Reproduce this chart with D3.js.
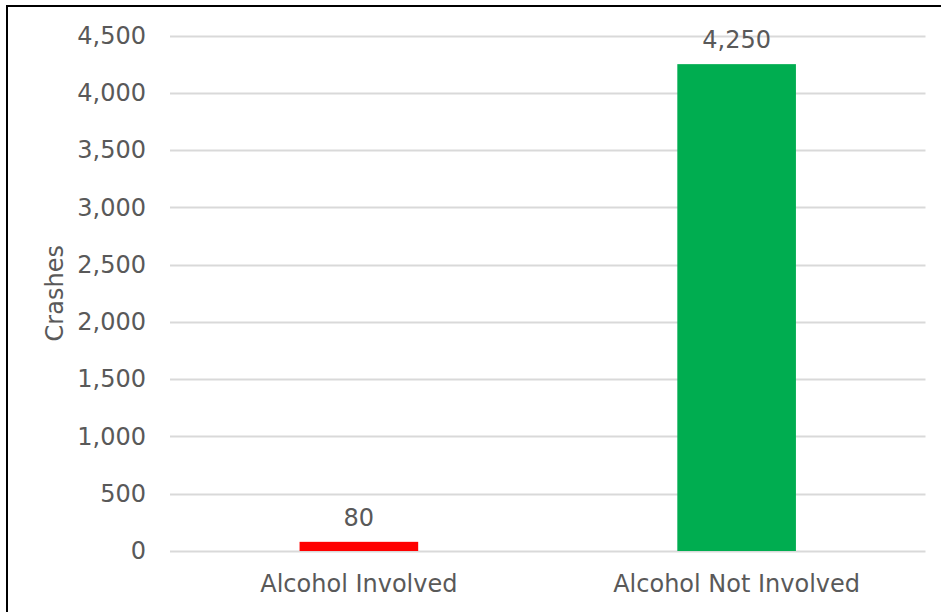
<!DOCTYPE html>
<html>
<head>
<meta charset="utf-8">
<script src="https://cdn.jsdelivr.net/npm/d3@7"></script>
<style>
  html, body { margin: 0; padding: 0; background: #fff; }
  svg { display: block; }
  text { font-family: Verdana, "DejaVu Sans", sans-serif; fill: #595959; }
</style>
</head>
<body>
<svg id="chart" width="941" height="612"></svg>
<script>
const categories = ["Alcohol Involved", "Alcohol Not Involved"];
const values = [80, 4250];
const barColors = ["#FF0000", "#00AD50"];
const yTicks = [0, 500, 1000, 1500, 2000, 2500, 3000, 3500, 4000, 4500];
const yTitle = "Crashes";

const svg = d3.select("#chart");
const plot = { left: 170, right: 925.5, top: 35.5, bottom: 551 };

// frame (only top and left visible in reference; chart is cropped)
svg.append("rect")
  .attr("x", 7).attr("y", 6)
  .attr("width", 1000).attr("height", 1000)
  .attr("fill", "none").attr("stroke", "#000").attr("stroke-width", 2);

const x = d3.scaleBand().domain(categories).range([plot.left, plot.right]).padding(0);
const y = d3.scaleLinear().domain([0, 4500]).range([plot.bottom, plot.top]);

const fmt = d3.format(",");
const fontSize = 24;
const FF = 'Verdana, "DejaVu Sans", sans-serif';

// gridlines
svg.append("g").selectAll("line").data(yTicks).join("line")
  .attr("x1", plot.left).attr("x2", plot.right)
  .attr("y1", d => Math.round(y(d)) + 0.5).attr("y2", d => Math.round(y(d)) + 0.5)
  .attr("stroke", "#D9D9D9").attr("stroke-width", 2);

// y axis labels
const yAxis = d3.axisLeft(y).tickValues(yTicks).tickFormat(fmt).tickSize(0).tickPadding(24);
const gy = svg.append("g").attr("transform", `translate(${plot.left},0)`).call(yAxis);
gy.select(".domain").remove();
gy.selectAll("text")
  .style("font-family", FF)
  .style("font-size", fontSize + "px").attr("fill", "#595959");

// x axis labels
const xAxis = d3.axisBottom(x).tickSize(0).tickPadding(24);
const gx = svg.append("g").attr("transform", `translate(0,${plot.bottom})`).call(xAxis);
gx.select(".domain").remove();
gx.selectAll("text")
  .style("font-family", FF)
  .style("font-size", fontSize + "px").attr("fill", "#595959");

// bars
const barW = x.bandwidth() * 0.314;
svg.append("g").selectAll("rect").data(values).join("rect")
  .attr("x", (d, i) => x(categories[i]) + x.bandwidth() / 2 - barW / 2)
  .attr("width", barW)
  .attr("y", d => y(d))
  .attr("height", d => y(0) - y(d))
  .attr("fill", (d, i) => barColors[i]);

// value labels
svg.append("g").selectAll("text").data(values).join("text")
  .attr("x", (d, i) => x(categories[i]) + x.bandwidth() / 2)
  .attr("y", d => y(d) - 16)
  .attr("text-anchor", "middle")
  .style("font-size", fontSize + "px")
  .attr("fill", "#404040")
  .text(d => fmt(d));

// y title
svg.append("text")
  .attr("transform", `translate(63,${(plot.top + plot.bottom) / 2}) rotate(-90)`)
  .attr("text-anchor", "middle")
  .style("font-size", "24px")
  .text(yTitle);
</script>
</body>
</html>
